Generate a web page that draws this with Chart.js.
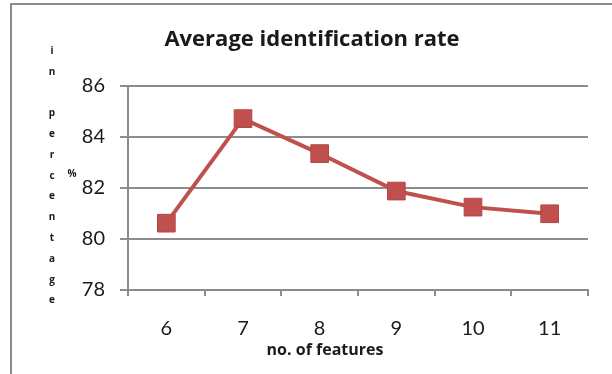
<!DOCTYPE html>
<html>
<head>
<meta charset="utf-8">
<script src="https://cdn.jsdelivr.net/npm/chart.js@4/dist/chart.umd.min.js"></script>
<style>
  html, body { margin: 0; padding: 0; background: #fff; }
  #wrap { width: 612px; height: 374px; }
</style>
</head>
<body>
<div id="wrap"><canvas id="rateChart" width="612" height="374"></canvas></div>
<script>
const categories = ['6', '7', '8', '9', '10', '11'];
const rates = [80.62, 84.72, 83.35, 81.88, 81.25, 80.99];
const yMin = 78;
const yMax = 86;
const yStep = 2;
const chartTitle = 'Average identification rate';
const xTitle = 'no. of features';
const yTitle = 'in percentage';
const yUnit = '%';

const FONT = 'Lato, "Open Sans", sans-serif';
const BOLD_FONT = '"Open Sans", Lato, sans-serif';
const red = '#c0504d';

// frame, titles and the stacked Excel-style y axis title
const decorations = {
    id: 'decorations',
    afterDraw(chart) {
        const ctx = chart.ctx;
        ctx.save();
        ctx.strokeStyle = '#8c8c8c';
        ctx.lineWidth = 2;
        ctx.beginPath();
        ctx.moveTo(11, 374);
        ctx.lineTo(11, 4);
        ctx.lineTo(612, 4);
        ctx.stroke();

        ctx.fillStyle = '#1a1a1a';
        ctx.textAlign = 'center';
        ctx.textBaseline = 'middle';
        ctx.font = 'bold 22px ' + BOLD_FONT;
        ctx.fillText(chartTitle, 312, 40);

        ctx.font = 'bold 16px ' + BOLD_FONT;
        ctx.fillText(xTitle, 325, 350);

        ctx.font = 'bold 10px ' + BOLD_FONT;
        const letters = yTitle.split('');
        letters.forEach((ch, i) => {
            ctx.fillText(ch, 52, 51 + i * 20.8);
        });
        ctx.fillText(yUnit, 72, 174);
        ctx.restore();
    }
};

new Chart(document.getElementById('rateChart'), {
    type: 'line',
    data: {
        labels: categories,
        datasets: [{
            label: chartTitle,
            data: rates,
            borderColor: red,
            backgroundColor: red,
            borderWidth: 4,
            tension: 0,
            pointStyle: 'rect',
            pointRadius: 12.5,
            pointHoverRadius: 12.5,
            pointBackgroundColor: red,
            pointBorderColor: '#b24845',
            pointBorderWidth: 1
        }]
    },
    options: {
        responsive: false,
        animation: false,
        layout: { padding: { top: 86, right: 24, left: 0, bottom: 0 } },
        plugins: {
            legend: { display: false },
            title: { display: false },
            tooltip: { enabled: false }
        },
        scales: {
            x: {
                offset: true,
                afterFit(scale) { scale.height = 84; },
                grid: {
                    offset: true,
                    drawOnChartArea: false,
                    tickLength: 6,
                    color: '#8c8c8c',
                    lineWidth: 2
                },
                border: { color: '#8c8c8c', width: 2 },
                ticks: {
                    color: '#1a1a1a',
                    padding: 21,
                    font: { family: FONT, size: 20 }
                }
            },
            y: {
                min: yMin,
                max: yMax,
                afterFit(scale) { scale.width = 128; },
                grid: {
                    color: '#8c8c8c',
                    lineWidth: 2,
                    tickLength: 8
                },
                border: { color: '#8c8c8c', width: 2 },
                ticks: {
                    stepSize: yStep,
                    color: '#1a1a1a',
                    padding: 15,
                    font: { family: FONT, size: 20 }
                }
            }
        }
    },
    plugins: [decorations]
});
</script>
</body>
</html>
